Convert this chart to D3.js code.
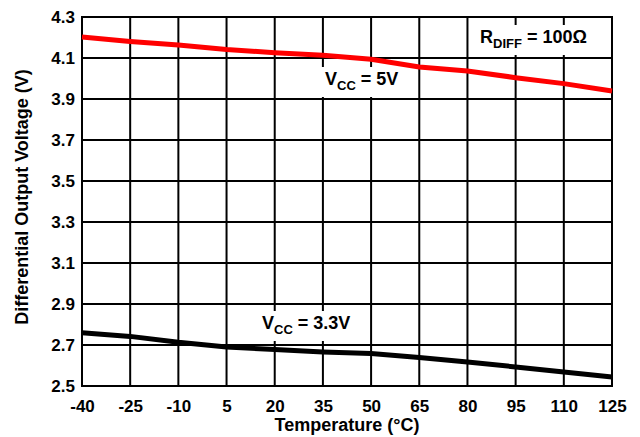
<!DOCTYPE html>
<html>
<head>
<meta charset="utf-8">
<script src="https://cdn.jsdelivr.net/npm/d3@7"></script>
<style>
  body { margin: 0; background: #fff; }
  text { font-family: "Liberation Sans", Arial, sans-serif; font-weight: bold; fill: #000; }
</style>
</head>
<body>
<div id="chart"></div>
<script>
// data
var temps = [-40, -25, -10, 5, 20, 35, 50, 65, 80, 95, 110, 125];
var vout5V = [4.202, 4.180, 4.163, 4.141, 4.126, 4.113, 4.094, 4.056, 4.037, 4.004, 3.975, 3.939];
var vout33V = [2.760, 2.742, 2.713, 2.690, 2.678, 2.666, 2.658, 2.639, 2.617, 2.593, 2.568, 2.544];
var xTicks = [-40, -25, -10, 5, 20, 35, 50, 65, 80, 95, 110, 125];
var yTicks = [2.5, 2.7, 2.9, 3.1, 3.3, 3.5, 3.7, 3.9, 4.1, 4.3];

var svgWidth = 640;
var svgHeight = 437;
var margin = { top: 17, right: 28, bottom: 51, left: 82 };
var chartWidth = svgWidth - margin.left - margin.right;
var chartHeight = svgHeight - margin.top - margin.bottom;

var svg = d3.select("#chart")
  .append("svg")
  .attr("width", svgWidth)
  .attr("height", svgHeight);

var chartGroup = svg.append("g")
  .attr("transform", `translate(${margin.left}, ${margin.top})`);

var xScale = d3.scaleLinear().domain([-40, 125]).range([0, chartWidth]);
var yScale = d3.scaleLinear().domain([2.5, 4.3]).range([chartHeight, 0]);

// grid
chartGroup.selectAll(".vgrid")
  .data(xTicks)
  .enter()
  .append("line")
  .attr("x1", d => xScale(d))
  .attr("x2", d => xScale(d))
  .attr("y1", 0)
  .attr("y2", chartHeight)
  .attr("stroke", "#000")
  .attr("stroke-width", 2);

chartGroup.selectAll(".hgrid")
  .data(yTicks)
  .enter()
  .append("line")
  .attr("x1", 0)
  .attr("x2", chartWidth)
  .attr("y1", d => yScale(d))
  .attr("y2", d => yScale(d))
  .attr("stroke", "#000")
  .attr("stroke-width", 2);

chartGroup.append("rect")
  .attr("width", chartWidth)
  .attr("height", chartHeight)
  .attr("fill", "none")
  .attr("stroke", "#000")
  .attr("stroke-width", 2);

// axes (labels only), plain hyphen for negatives
var xAxis = d3.axisBottom(xScale).tickValues(xTicks).tickSize(0).tickPadding(14)
  .tickFormat(d => String(d));
var yAxis = d3.axisLeft(yScale).tickValues(yTicks).tickSize(0).tickPadding(7)
  .tickFormat(d => d.toFixed(1));

var gx = chartGroup.append("g")
  .attr("transform", `translate(0, ${chartHeight})`)
  .call(xAxis);
var gy = chartGroup.append("g").call(yAxis);

[gx, gy].forEach(g => {
  g.select(".domain").remove();
  g.selectAll("text")
    .attr("font-family", null)
    .style("font-size", "17px")
    .attr("fill", "#000");
});

// labels with white boxes
function label(x, y, main, sub, rest) {
  var g = svg.append("g");
  var t = g.append("text")
    .attr("x", x)
    .attr("y", y)
    .style("font-size", "18px");
  t.append("tspan").text(main);
  t.append("tspan").text(sub).style("font-size", "13px").attr("dy", 5);
  t.append("tspan").text(rest).attr("dy", -5);
  var bb = t.node().getBBox();
  g.insert("rect", "text")
    .attr("x", bb.x - 4)
    .attr("y", bb.y - 2)
    .attr("width", bb.width + 8)
    .attr("height", bb.height + 6)
    .attr("fill", "#fff");
}

label(480, 43, "R", "DIFF", " = 100Ω");
label(325, 85, "V", "CC", " = 5V");
label(262, 329, "V", "CC", " = 3.3V");

// curves on top of everything
var curveGroup = svg.append("g")
  .attr("transform", `translate(${margin.left}, ${margin.top})`);

var line = d3.line()
  .x((d, i) => xScale(temps[i]))
  .y(d => yScale(d));

curveGroup.append("path")
  .datum(vout5V)
  .attr("d", line)
  .attr("fill", "none")
  .attr("stroke", "#ff0000")
  .attr("stroke-width", 5);

curveGroup.append("path")
  .datum(vout33V)
  .attr("d", line)
  .attr("fill", "none")
  .attr("stroke", "#000")
  .attr("stroke-width", 5);

// axis titles
svg.append("text")
  .attr("x", margin.left + chartWidth / 2)
  .attr("y", 431)
  .attr("text-anchor", "middle")
  .style("font-size", "18px")
  .text("Temperature (°C)");

svg.append("text")
  .attr("transform", "translate(28, 197) rotate(-90)")
  .attr("text-anchor", "middle")
  .style("font-size", "18px")
  .text("Differential Output Voltage (V)");
</script>
</body>
</html>
